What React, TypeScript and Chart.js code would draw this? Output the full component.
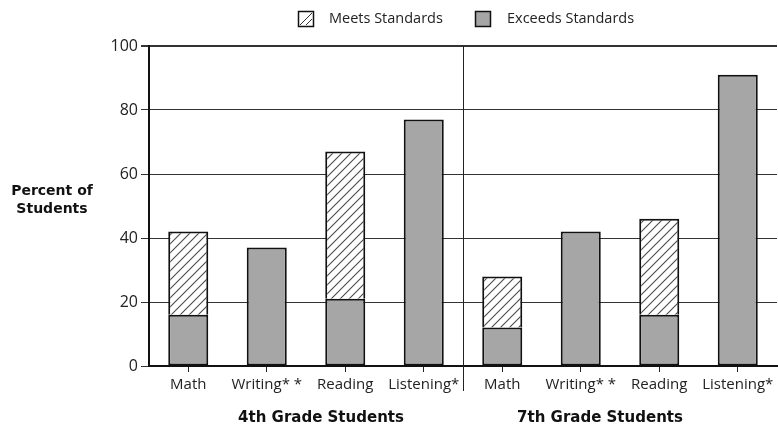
import React, { useEffect, useRef } from 'react';
import { Chart, registerables } from 'chart.js';

Chart.register(...registerables);

const categories = ['Math', 'Writing* *', 'Reading', 'Listening*', 'Math', 'Writing* *', 'Reading', 'Listening*'];
const groupLabels = ['4th Grade Students', '7th Grade Students'];
const exceedsValues = [16, 37, 21, 77, 12, 42, 16, 91];
const meetsValues = [26, null, 46, null, 16, null, 30, null];
const legendLabels = ['Meets Standards', 'Exceeds Standards'];
const yTitleLines = ['Percent of', 'Students'];
const yMin = 0;
const yMax = 100;
const yStep = 20;

const GRAY = '#a6a6a6';
const REG_FONT = '"Open Sans", "DejaVu Sans", sans-serif';
const BOLD_FONT = '"DejaVu Sans", sans-serif';

function makeHatch(): CanvasPattern | string {
  const s = 9;
  const c = document.createElement('canvas');
  c.width = s;
  c.height = s;
  const g = c.getContext('2d');
  if (!g) return '#fff';
  g.fillStyle = '#ffffff';
  g.fillRect(0, 0, s, s);
  g.strokeStyle = '#4a4a4a';
  g.lineWidth = 1.1;
  g.beginPath();
  g.moveTo(-1, s + 1);
  g.lineTo(s + 1, -1);
  g.moveTo(-2, 2);
  g.lineTo(2, -2);
  g.moveTo(s - 2, s + 2);
  g.lineTo(s + 2, s - 2);
  g.stroke();
  const p = g.createPattern(c, 'repeat');
  return p || '#fff';
}

export default function App() {
  const ref = useRef<HTMLCanvasElement | null>(null);

  useEffect(() => {
    const canvas = ref.current;
    if (!canvas) return;
    const hatch = makeHatch();

    const deco = {
      id: 'deco',
      afterDraw(chart: any) {
        const { ctx, chartArea, scales } = chart;
        const x = scales.x;
        ctx.save();
        // divider between grade groups
        const xd = Math.round((x.getPixelForValue(3) + x.getPixelForValue(4)) / 2) + 0.5;
        ctx.strokeStyle = '#222';
        ctx.lineWidth = 1;
        ctx.beginPath();
        ctx.moveTo(xd, chartArea.top);
        ctx.lineTo(xd, chartArea.bottom + 25);
        ctx.stroke();

        // group labels
        ctx.fillStyle = '#111';
        ctx.font = `bold 15px ${BOLD_FONT}`;
        ctx.textAlign = 'center';
        ctx.textBaseline = 'middle';
        const g1 = (x.getPixelForValue(1) + x.getPixelForValue(2)) / 2 + 15;
        const g2 = (x.getPixelForValue(5) + x.getPixelForValue(6)) / 2 - 20;
        ctx.fillText(groupLabels[0], g1, chartArea.bottom + 52);
        ctx.fillText(groupLabels[1], g2, chartArea.bottom + 52);

        // y title
        ctx.font = `bold 14px ${BOLD_FONT}`;
        ctx.fillText(yTitleLines[0], 52, 191);
        ctx.fillText(yTitleLines[1], 52, 209);

        // legend
        ctx.textAlign = 'left';
        ctx.font = `14.5px ${REG_FONT}`;
        // meets box
        ctx.fillStyle = '#fff';
        ctx.fillRect(298, 11, 16, 16);
        ctx.strokeStyle = '#333';
        ctx.lineWidth = 1;
        ctx.beginPath();
        ctx.moveTo(300, 25);
        ctx.lineTo(312, 13);
        ctx.moveTo(306, 25);
        ctx.lineTo(312, 19);
        ctx.stroke();
        ctx.lineWidth = 1.5;
        ctx.strokeStyle = '#111';
        ctx.strokeRect(298.5, 11.5, 15, 15);
        // exceeds box
        ctx.fillStyle = GRAY;
        ctx.fillRect(475, 11, 16, 16);
        ctx.strokeRect(475.5, 11.5, 15, 15);
        ctx.fillStyle = '#222';
        ctx.fillText(legendLabels[0], 329, 19);
        ctx.fillText(legendLabels[1], 507, 19);
        ctx.restore();
      },
    };

    const chart = new Chart(canvas, {
      type: 'bar',
      data: {
        labels: categories,
        datasets: [
          {
            label: legendLabels[1],
            data: exceedsValues,
            backgroundColor: GRAY,
            borderColor: '#111',
            borderWidth: 2,
            borderSkipped: false,
            barPercentage: 0.51,
            categoryPercentage: 1,
          },
          {
            label: legendLabels[0],
            data: meetsValues,
            backgroundColor: hatch as any,
            borderColor: '#111',
            borderWidth: 2,
            borderSkipped: 'bottom',
            barPercentage: 0.51,
            categoryPercentage: 1,
          },
        ],
      },
      options: {
        responsive: false,
        animation: false,
        layout: { padding: { top: 46, right: 1, left: 0, bottom: 0 } },
        plugins: {
          legend: { display: false },
          tooltip: { enabled: false },
          title: { display: false },
        },
        scales: {
          x: {
            stacked: true,
            afterFit: (s: any) => {
              s.height = 64;
            },
            grid: {
              display: true,
              drawOnChartArea: false,
              drawTicks: true,
              tickLength: 6,
              offset: false,
              color: '#222',
              lineWidth: 1,
            },
            border: { display: true, color: '#111', width: 2 },
            ticks: {
              color: '#222',
              font: { family: REG_FONT, size: 15 },
              padding: 4,
              maxRotation: 0,
              autoSkip: false,
            },
          },
          y: {
            stacked: true,
            min: yMin,
            max: yMax,
            afterFit: (s: any) => {
              s.width = 149;
            },
            grid: {
              color: '#333',
              lineWidth: (c: any) => (c.tick && c.tick.value === yMax ? 2 : 1),
              tickLength: 8,
            },
            border: { display: true, color: '#111', width: 2 },
            ticks: {
              stepSize: yStep,
              color: '#222',
              font: { family: REG_FONT, size: 16 },
              padding: 3,
            },
          },
        },
      },
      plugins: [deco],
    });

    return () => chart.destroy();
  }, []);

  return (
    <div style={{ position: 'absolute', left: 0, top: 0, width: 778, height: 430, background: '#fff' }}>
      <canvas ref={ref} width={778} height={430} />
    </div>
  );
}
